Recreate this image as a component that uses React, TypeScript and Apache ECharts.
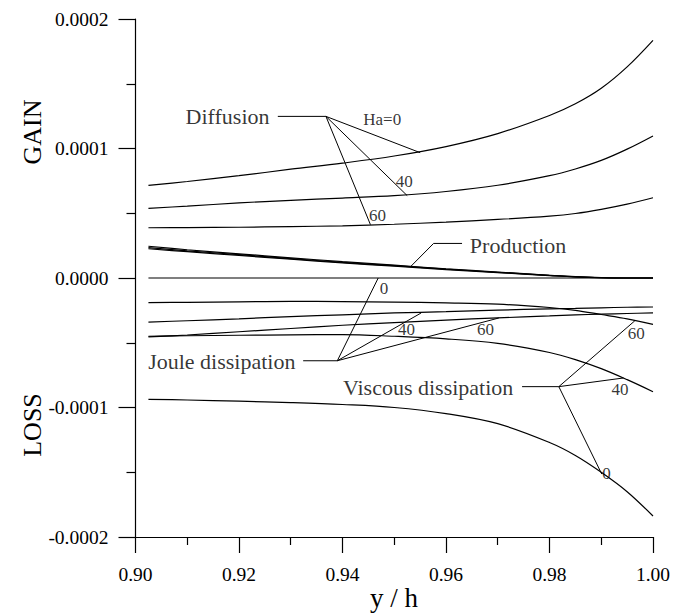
import React, { useEffect, useRef } from "react";
import * as echarts from "echarts";

// Wall-normal position y/h
const yOverH = [0.9025, 0.91, 0.92, 0.93, 0.94, 0.95, 0.96, 0.97, 0.98, 0.985, 0.99, 0.995, 1.0];

// Budget terms, in units of 1e-4
const UNIT = 1e-4;
const diffusionHa0 = [0.716, 0.745, 0.79, 0.84, 0.887, 0.942, 1.015, 1.115, 1.255, 1.345, 1.465, 1.63, 1.835];
const diffusionHa40 = [0.538, 0.555, 0.58, 0.6, 0.617, 0.636, 0.668, 0.716, 0.79, 0.842, 0.908, 0.995, 1.097];
const diffusionHa60 = [0.388, 0.389, 0.392, 0.397, 0.403, 0.415, 0.432, 0.452, 0.478, 0.498, 0.53, 0.57, 0.62];
const productionHa0 = [0.245, 0.218, 0.187, 0.156, 0.126, 0.099, 0.071, 0.046, 0.021, 0.01, 0.003, 0, 0];
const productionHa40 = [0.235, 0.21, 0.18, 0.15, 0.121, 0.095, 0.068, 0.044, 0.02, 0.009, 0.002, 0, 0];
const productionHa60 = [0.226, 0.203, 0.174, 0.145, 0.117, 0.091, 0.065, 0.042, 0.019, 0.008, 0.002, 0, 0];
const jouleHa0 = [0, 0, 0, 0, 0, 0, 0, 0, 0, 0, 0, 0, 0];
const jouleHa40 = [-0.34, -0.33, -0.315, -0.298, -0.284, -0.27, -0.26, -0.248, -0.238, -0.234, -0.23, -0.226, -0.224];
const jouleHa60 = [-0.455, -0.44, -0.415, -0.39, -0.365, -0.345, -0.325, -0.308, -0.293, -0.285, -0.279, -0.274, -0.27];
const viscousHa0 = [-0.937, -0.942, -0.951, -0.962, -0.977, -1.0, -1.047, -1.125, -1.27, -1.37, -1.5, -1.65, -1.838];
const viscousHa40 = [-0.45, -0.446, -0.442, -0.439, -0.437, -0.45, -0.47, -0.505, -0.575, -0.63, -0.7, -0.785, -0.878];
const viscousHa60 = [-0.19, -0.188, -0.184, -0.181, -0.182, -0.186, -0.192, -0.202, -0.228, -0.25, -0.282, -0.315, -0.358];

const curves: [string, number[]][] = [
  ["Diffusion Ha=0", diffusionHa0],
  ["Diffusion Ha=40", diffusionHa40],
  ["Diffusion Ha=60", diffusionHa60],
  ["Production Ha=0", productionHa0],
  ["Production Ha=40", productionHa40],
  ["Production Ha=60", productionHa60],
  ["Joule dissipation Ha=0", jouleHa0],
  ["Joule dissipation Ha=40", jouleHa40],
  ["Joule dissipation Ha=60", jouleHa60],
  ["Viscous dissipation Ha=0", viscousHa0],
  ["Viscous dissipation Ha=40", viscousHa40],
  ["Viscous dissipation Ha=60", viscousHa60],
];

// Leader lines for the annotations, [y/h, value(1e-4)] vertices
const leaderLines: [number, number][][] = [
  [[0.9275, 1.248], [0.9368, 1.248]],
  [[0.9368, 1.248], [0.955, 0.968]],
  [[0.9368, 1.248], [0.9525, 0.636]],
  [[0.9368, 1.248], [0.9454, 0.412]],
  [[0.9532, 0.0896], [0.9576, 0.267], [0.9631, 0.267]],
  [[0.9324, -0.639], [0.939, -0.639]],
  [[0.939, -0.639], [0.9469, 0]],
  [[0.939, -0.639], [0.9552, -0.27]],
  [[0.939, -0.639], [0.9702, -0.309]],
  [[0.9747, -0.839], [0.9818, -0.839]],
  [[0.9818, -0.839], [0.9965, -0.33]],
  [[0.9818, -0.839], [0.9943, -0.772]],
  [[0.9818, -0.839], [0.9901, -1.514]],
];

// Annotation texts: [text, y/h, value(1e-4), align, size]
const annotations: [string, number, number, "left" | "right", number][] = [
  ["Diffusion", 0.926, 1.245, "right", 22],
  ["Ha=0", 0.9441, 1.219, "left", 17],
  ["40", 0.9504, 0.744, "left", 17],
  ["60", 0.9452, 0.481, "left", 17],
  ["Production", 0.9647, 0.249, "left", 22],
  ["Joule dissipation", 0.931, -0.646, "right", 22],
  ["0", 0.9473, -0.085, "left", 17],
  ["40", 0.9508, -0.399, "left", 17],
  ["60", 0.9661, -0.399, "left", 17],
  ["Viscous dissipation", 0.9731, -0.847, "right", 22],
  ["60", 0.9952, -0.43, "left", 17],
  ["40", 0.9921, -0.862, "left", 17],
  ["0", 0.9903, -1.511, "left", 17],
];

const xTicks = { min: 0.9, max: 1.0, step: 0.02 };
const yTicks = { min: -0.0002, max: 0.0002, step: 0.0001 };

const SERIF = '"Liberation Serif", "Times New Roman", Times, serif';
const INK = "#000";

export default function App() {
  const ref = useRef<HTMLDivElement>(null);

  useEffect(() => {
    if (!ref.current) return;
    const chart = echarts.init(ref.current, undefined, { renderer: "svg" });

    const curveSeries = curves.map(([name, vals]) => ({
      name,
      type: "line",
      data: yOverH.map((x, i) => [x, vals[i] * UNIT]),
      showSymbol: false,
      smooth: 0.35,
      lineStyle: { color: INK, width: 1.2 },
      silent: true,
      z: 3,
    }));

    const leaderSeries = leaderLines.map((pts, k) => ({
      name: `leader-${k}`,
      type: "line",
      data: pts.map(([x, v]) => [x, v * UNIT]),
      showSymbol: false,
      lineStyle: { color: INK, width: 1 },
      silent: true,
      z: 4,
    }));

    const labelSeries = {
      name: "annotations",
      type: "scatter",
      symbolSize: 1,
      itemStyle: { color: "rgba(0,0,0,0)" },
      silent: true,
      z: 5,
      data: annotations.map(([text, x, v, align, size]) => ({
        value: [x, v * UNIT],
        label: {
          show: true,
          position: [0, 0],
          formatter: text,
          align,
          verticalAlign: "middle",
          fontFamily: SERIF,
          fontSize: size,
          color: INK,
        },
      })),
    };

    chart.setOption({
      animation: false,
      backgroundColor: "#fff",
      grid: { left: 135.5, right: 24, top: 19, bottom: 78, containLabel: false },
      xAxis: {
        type: "value",
        min: xTicks.min,
        max: xTicks.max,
        interval: xTicks.step,
        axisLine: { show: true, onZero: false, lineStyle: { color: INK, width: 1.2 } },
        axisTick: { show: true, inside: false, length: 16, lineStyle: { color: INK, width: 1.2 } },
        minorTick: { show: true, splitNumber: 2, length: 8, lineStyle: { color: INK, width: 1.2 } },
        splitLine: { show: false },
        minorSplitLine: { show: false },
        axisLabel: {
          margin: 27,
          fontFamily: SERIF,
          fontSize: 19.5,
          color: INK,
          formatter: (v: number) => v.toFixed(2),
        },
      },
      yAxis: {
        type: "value",
        min: yTicks.min,
        max: yTicks.max,
        interval: yTicks.step,
        axisLine: { show: true, onZero: false, lineStyle: { color: INK, width: 1.2 } },
        axisTick: { show: true, inside: false, length: 17, lineStyle: { color: INK, width: 1.2 } },
        minorTick: { show: true, splitNumber: 2, length: 9, lineStyle: { color: INK, width: 1.2 } },
        splitLine: { show: false },
        minorSplitLine: { show: false },
        axisLabel: {
          margin: 27,
          fontFamily: SERIF,
          fontSize: 19.5,
          color: INK,
          formatter: (v: number) => (Math.abs(v) < 1e-12 ? 0 : v).toFixed(4),
        },
      },
      graphic: [
        {
          type: "text",
          x: 32,
          y: 132,
          rotation: Math.PI / 2,
          style: { text: "GAIN", font: `26px ${SERIF}`, fill: INK, align: "center", verticalAlign: "middle" },
        },
        {
          type: "text",
          x: 32,
          y: 425,
          rotation: Math.PI / 2,
          style: { text: "LOSS", font: `26px ${SERIF}`, fill: INK, align: "center", verticalAlign: "middle" },
        },
        {
          type: "text",
          x: 394,
          y: 598,
          style: { text: "y / h", font: `27px ${SERIF}`, fill: INK, align: "center", verticalAlign: "middle" },
        },
      ],
      series: [...curveSeries, ...leaderSeries, labelSeries],
    });

    return () => chart.dispose();
  }, []);

  return (
    <div
      ref={ref}
      style={{ position: "fixed", left: 0, top: 0, width: 677, height: 615, background: "#fff" }}
    />
  );
}
